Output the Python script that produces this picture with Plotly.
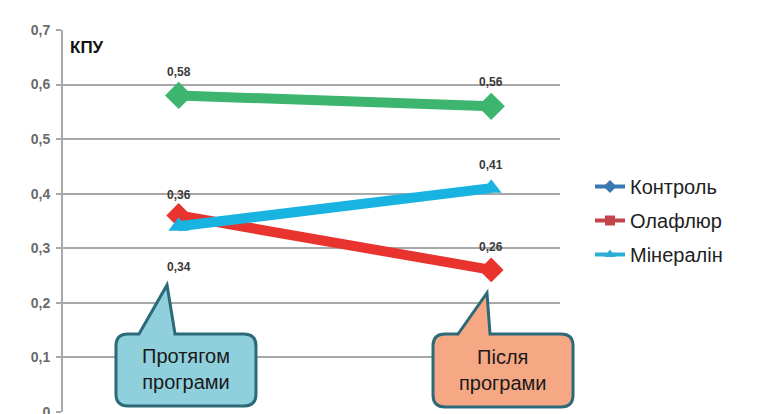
import plotly.graph_objects as go

# data
categories = ["Протягом програми", "Після програми"]
series_names = ["Контроль", "Олафлюр", "Мінералін"]
kontrol = [0.58, 0.56]
olaflur = [0.36, 0.26]
mineralin = [0.34, 0.41]
y_ticks = [0, 0.1, 0.2, 0.3, 0.4, 0.5, 0.6, 0.7]
y_tick_text = ["0", "0,1", "0,2", "0,3", "0,4", "0,5", "0,6", "0,7"]

line_colors = ["#3db56e", "#e8332e", "#19b3e2"]
legend_colors = ["#3a78b2", "#c2434b", "#2aaed6"]
symbols = ["diamond", "diamond", "triangle-up"]
sizes = [21, 19, 18]
# label offset (px) for each point: positive = above
label_shift = [[23, 24], [20, 23], [-41, 23]]

OFF = 8  # page body margin of the html page
W, H = 762 - OFF, 414 - OFF
# plot area in screen pixels, shifted into figure pixels
L, R, T, B = 63 - OFF, 560 - OFF, 30 - OFF, 412 - OFF
PW, PH = R - L, B - T


def to_paper(x, y):
    # x, y are screen pixels
    return (x - OFF - L) / PW, (B - (y - OFF)) / PH


def callout_path(x0, y0, x1, y1, tl, tip, tr, r=12):
    pts = [
        ("M", [(x0 + r, y0)]),
        ("L", [tl]),
        ("L", [tip]),
        ("L", [tr]),
        ("L", [(x1 - r, y0)]),
        ("Q", [(x1, y0), (x1, y0 + r)]),
        ("L", [(x1, y1 - r)]),
        ("Q", [(x1, y1), (x1 - r, y1)]),
        ("L", [(x0 + r, y1)]),
        ("Q", [(x0, y1), (x0, y1 - r)]),
        ("L", [(x0, y0 + r)]),
        ("Q", [(x0, y0), (x0 + r, y0)]),
    ]
    s = ""
    for cmd, ps in pts:
        s += cmd + " " + " ".join("%.4f,%.4f" % to_paper(*p) for p in ps) + " "
    return s + "Z"


fig = go.Figure()

all_series = [kontrol, olaflur, mineralin]
for i, vals in enumerate(all_series):
    fig.add_trace(go.Scatter(
        x=categories, y=vals, mode="lines+markers",
        line=dict(color=line_colors[i], width=10),
        marker=dict(symbol=symbols[i], size=sizes[i], color=line_colors[i]),
        showlegend=False, hoverinfo="skip"
    ))

# legend entries (the original legend uses different colours than the lines)
legend_symbols = ["diamond", "square", "triangle-up"]
for i, name in enumerate(series_names):
    fig.add_trace(go.Scatter(
        x=[None], y=[None], mode="lines+markers", name=name,
        legendgroup=name,
        line=dict(color=legend_colors[i], width=4),
        marker=dict(symbol=legend_symbols[i], size=10, color=legend_colors[i])
    ))

annotations = []
for i, vals in enumerate(all_series):
    for j, v in enumerate(vals):
        annotations.append(dict(
            x=categories[j], y=v, xref="x", yref="y",
            text="<b>" + ("%.2f" % v).replace(".", ",") + "</b>",
            showarrow=False, yshift=label_shift[i][j],
            font=dict(size=12, color="#3a3a3a")
        ))

kx, ky = to_paper(68, 47)
annotations.append(dict(
    x=kx, y=ky, xref="paper", yref="paper", xanchor="left", yanchor="middle",
    text="<b>КПУ</b>", showarrow=False, font=dict(size=17, color="#111")
))

boxes = [
    dict(box=(116, 334, 256, 406), tl=(139, 334), tip=(167, 285), tr=(175, 334),
         fill="#8fd0dc", text="Протягом<br>програми"),
    dict(box=(433, 334, 573, 407), tl=(458, 334), tip=(487, 293), tr=(490, 334),
         fill="#f6a784", text="Після<br>програми"),
]
shapes = []
for b in boxes:
    x0, y0, x1, y1 = b["box"]
    shapes.append(dict(
        type="path", xref="paper", yref="paper",
        path=callout_path(x0, y0, x1, y1, b["tl"], b["tip"], b["tr"]),
        fillcolor=b["fill"], line=dict(color="#2d6a79", width=3), layer="above"
    ))
    cx, cy = to_paper((x0 + x1) / 2, (y0 + y1) / 2 - 1)
    annotations.append(dict(
        x=cx, y=cy, xref="paper", yref="paper", xanchor="center",
        yanchor="middle", text=b["text"], showarrow=False,
        font=dict(size=20, color="#1a1a1a"), align="center"
    ))

lx, ly = to_paper(590, 167)

fig.update_layout(
    width=W, height=H,
    margin=dict(l=L, r=W - R, t=T, b=H - B, autoexpand=False),
    paper_bgcolor="white", plot_bgcolor="white",
    font=dict(family="Arial, Liberation Sans, sans-serif"),
    xaxis=dict(type="category", range=[-0.37, 1.22], showticklabels=False,
               showgrid=False, zeroline=False, showline=False),
    yaxis=dict(range=[-0.0005, 0.7], tickvals=y_ticks,
               ticktext=["<b>%s</b>" % t for t in y_tick_text],
               showgrid=True, gridcolor="#a8a8a8", gridwidth=2,
               zeroline=False, showline=True, linecolor="#a8a8a8", linewidth=2,
               ticks="outside", ticklen=5, tickcolor="#a8a8a8", tickwidth=2,
               tickfont=dict(size=14, color="#6a6a6a"), ticklabelstandoff=3,
               ticklabeloverflow="allow"),
    legend=dict(x=lx, y=ly, xanchor="left", yanchor="top",
                font=dict(size=20, color="#222"), tracegroupgap=5,
                bgcolor="rgba(0,0,0,0)"),
    shapes=shapes,
    annotations=annotations,
)

fig.write_html("out.html")
